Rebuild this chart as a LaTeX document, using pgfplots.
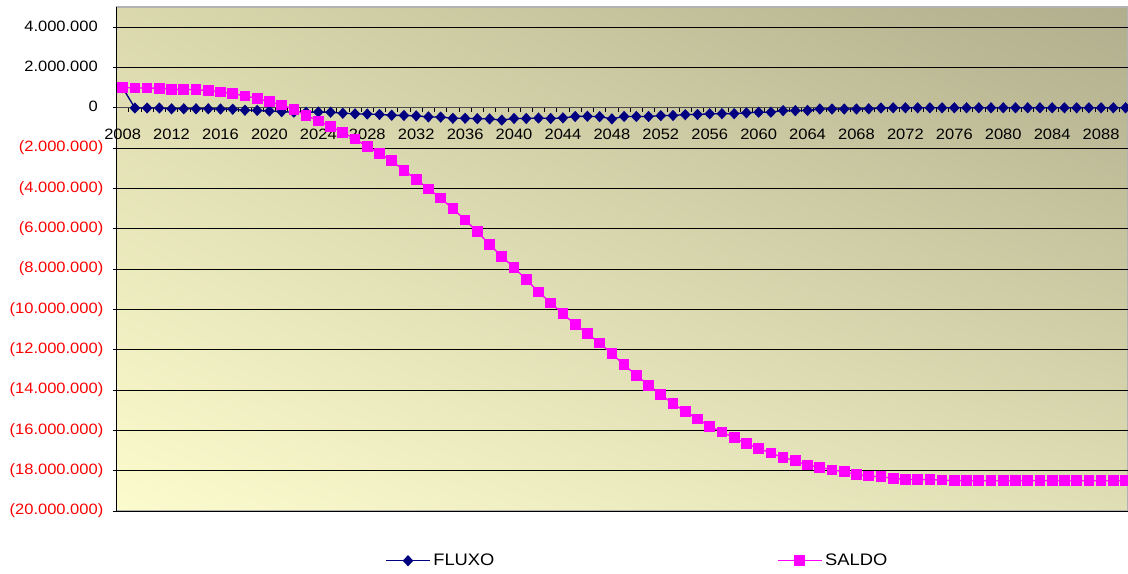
\documentclass[border=0pt]{standalone}
\usepackage{pgfplots}
\usepackage{pgfplotstable}
\pgfplotsset{compat=1.18}
\usetikzlibrary{shadings}
\usepackage{fontspec}
\setmainfont{Liberation Sans}[FakeStretch=1.1]
\definecolor{navyline}{RGB}{0,0,128}
\definecolor{magline}{RGB}{255,0,255}
\definecolor{bgll}{RGB}{252,251,206}
\definecolor{bgul}{RGB}{218,216,172}
\definecolor{bglr}{RGB}{224,222,180}
\definecolor{bgur}{RGB}{176,174,140}
\definecolor{negred}{RGB}{255,0,0}
\newcommand{\negl}[1]{\textcolor{negred}{(#1)}}
\newcommand{\posl}[1]{#1\phantom{)}}
\pgfplotstableread{
year fluxo saldo
2008 1000000 1000000
2009 -10000 990000
2010 -10000 980000
2011 -10000 970000
2012 -50000 920000
2013 -50000 910000
2014 -50000 900000
2015 -50000 850000
2016 -60000 780000
2017 -70000 710000
2018 -120000 590000
2019 -130000 460000
2020 -160000 300000
2021 -190000 140000
2022 -220000 -80000
2023 -220000 -380000
2024 -210000 -650000
2025 -220000 -930000
2026 -270000 -1220000
2027 -300000 -1550000
2028 -310000 -1920000
2029 -330000 -2270000
2030 -370000 -2630000
2031 -380000 -3100000
2032 -400000 -3550000
2033 -450000 -4020000
2034 -460000 -4480000
2035 -520000 -5010000
2036 -520000 -5560000
2037 -540000 -6150000
2038 -550000 -6780000
2039 -610000 -7380000
2040 -530000 -7920000
2041 -530000 -8530000
2042 -510000 -9130000
2043 -530000 -9680000
2044 -500000 -10220000
2045 -430000 -10750000
2046 -420000 -11200000
2047 -440000 -11670000
2048 -550000 -12200000
2049 -430000 -12750000
2050 -430000 -13270000
2051 -430000 -13760000
2052 -390000 -14220000
2053 -380000 -14680000
2054 -340000 -15060000
2055 -330000 -15430000
2056 -300000 -15800000
2057 -290000 -16080000
2058 -290000 -16370000
2059 -250000 -16660000
2060 -220000 -16890000
2061 -220000 -17130000
2062 -140000 -17350000
2063 -140000 -17510000
2064 -130000 -17720000
2065 -60000 -17830000
2066 -60000 -17960000
2067 -60000 -18050000
2068 -60000 -18200000
2069 -50000 -18270000
2070 -10000 -18300000
2071 0 -18380000
2072 0 -18430000
2073 0 -18440000
2074 0 -18450000
2075 0 -18460000
2076 0 -18490000
2077 0 -18500000
2078 0 -18500000
2079 0 -18500000
2080 0 -18500000
2081 0 -18500000
2082 0 -18500000
2083 0 -18500000
2084 0 -18500000
2085 0 -18500000
2086 0 -18500000
2087 0 -18500000
2088 0 -18500000
2089 0 -18500000
2090 0 -18500000
}\datatable
\begin{document}
\fontsize{11.25pt}{13pt}\selectfont
\begin{tikzpicture}
\begin{axis}[
  scale only axis,
  width=758.6pt, height=378pt,
  xmin=2007.5, xmax=2090.2,
  ymin=-20000000, ymax=5000000,
  axis x line=middle,
  axis y line=left,
  axis line style={-},
  x axis line style={draw=black!70, line width=0.8pt},
  y axis line style={draw=black, line width=0.8pt},
  hide obscured x ticks=false,
  hide obscured y ticks=false,
  tick align=outside,
  major tick length=3pt,
  tick style={black, line width=0.6pt},
  xtick={2007.5,2008.5,...,2090.5},
  xticklabels={},
  xticklabel style={yshift=-12pt},
  extra x ticks={2008,2012,...,2088},
  extra x tick labels={2008,2012,2016,2020,2024,2028,2032,2036,2040,2044,2048,2052,2056,2060,2064,2068,2072,2076,2080,2084,2088},
  extra x tick style={major tick length=0pt},
  ytick={-20000000,-18000000,...,4000000},
  yticklabels={\negl{20.000.000},\negl{18.000.000},\negl{16.000.000},\negl{14.000.000},\negl{12.000.000},\negl{10.000.000},\negl{8.000.000},\negl{6.000.000},\negl{4.000.000},\negl{2.000.000},\posl{0},\posl{2.000.000},\posl{4.000.000}},
  scaled y ticks=false,
  yticklabel style={anchor=east, xshift=-3pt},
  ymajorgrids,
  major grid style={black, line width=0.6pt},
  axis background/.style={shading=bilinear interpolation, lower left=bgll, upper left=bgul, lower right=bglr, upper right=bgur, draw=gray!60, line width=0.8pt},
  legend columns=2,
  legend style={at={(0.2655,-0.0987)}, anchor=west, draw=none, fill=none, inner sep=0pt,
    font=\fontsize{12.5pt}{14pt}\selectfont,
    /tikz/every even column/.append style={column sep=210pt}},
  legend image code/.code={\draw[mark repeat=2,mark phase=2] plot coordinates {(0pt,0pt) (16.5pt,0pt) (33pt,0pt)};},
]
\addplot[navyline, line width=1pt, mark=diamond*, mark size=3.5pt, mark options={xscale=1.25, fill=navyline, draw=navyline}] table[x=year, y=fluxo] {\datatable};
\addlegendentry{FLUXO}
\addplot[magline, line width=1pt, mark=square*, mark size=3.5pt, mark options={fill=magline, draw=magline}] table[x=year, y=saldo] {\datatable};
\addlegendentry{SALDO}
\coordinate (pasw) at (rel axis cs:0,0);
\coordinate (pane) at (rel axis cs:1,1);
\end{axis}
\pgfresetboundingbox
\path[use as bounding box] ([shift={(-87.4pt,-47.25pt)}]pasw) rectangle ([shift={(0pt,5.25pt)}]pane);
\end{tikzpicture}
\end{document}
